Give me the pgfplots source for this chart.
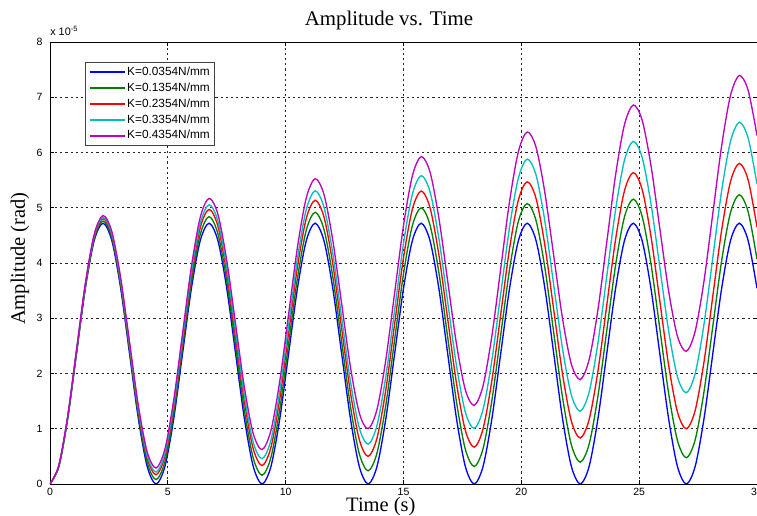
\documentclass[border=0pt]{standalone}
\usepackage{fontspec}
\setmainfont{Liberation Serif}
\setsansfont{Liberation Sans}
\usepackage{pgfplots}
\usepackage{pgfplotstable}
\pgfplotsset{compat=1.18}

\definecolor{mblue}{rgb}{0,0,1}
\definecolor{mgreen}{rgb}{0,0.5,0}
\definecolor{mred}{rgb}{1,0,0}
\definecolor{mcyan}{rgb}{0,0.75,0.75}
\definecolor{mmag}{rgb}{0.75,0,0.75}

% amplitude in units of 1e-5 rad
\pgfplotstableread{
t b g r c m
0 0 0 0 0 0
0.375 0.316 0.323 0.330 0.333 0.338
0.75 1.18 1.193 1.208 1.215 1.225
1.125 2.36 2.380 2.402 2.412 2.428
1.5 3.54 3.566 3.596 3.610 3.631
1.875 4.404 4.437 4.473 4.492 4.519
2.25 4.72 4.760 4.803 4.826 4.859
2.625 4.404 4.450 4.501 4.528 4.567
3 3.54 3.593 3.651 3.682 3.728
3.375 2.36 2.419 2.485 2.521 2.573
3.75 1.18 1.246 1.319 1.359 1.418
4.125 0.316 0.389 0.469 0.514 0.579
4.5 0 0.079 0.167 0.217 0.289
4.875 0.316 0.402 0.496 0.552 0.631
5.25 1.18 1.272 1.374 1.435 1.522
5.625 2.36 2.459 2.568 2.635 2.728
6 3.54 3.646 3.762 3.834 3.935
6.375 4.404 4.516 4.640 4.718 4.827
6.75 4.72 4.839 4.970 5.054 5.170
7.125 4.404 4.529 4.668 4.758 4.882
7.5 3.54 3.672 3.818 3.914 4.047
7.875 2.36 2.499 2.652 2.755 2.895
8.25 1.18 1.325 1.485 1.595 1.744
8.625 0.316 0.468 0.635 0.752 0.909
9 0 0.158 0.333 0.457 0.623
9.375 0.316 0.481 0.663 0.794 0.968
9.75 1.18 1.352 1.541 1.679 1.863
10.125 2.36 2.538 2.735 2.881 3.073
10.5 3.54 3.725 3.929 4.082 4.284
10.875 4.404 4.595 4.807 4.968 5.179
11.25 4.72 4.918 5.136 5.306 5.526
11.625 4.404 4.609 4.834 5.012 5.242
12 3.54 3.751 3.984 4.170 4.410
12.375 2.36 2.578 2.818 3.013 3.262
12.75 1.18 1.404 1.652 1.855 2.115
13.125 0.316 0.547 0.802 1.014 1.283
13.5 0 0.238 0.500 0.721 1.001
13.875 0.316 0.560 0.830 1.060 1.350
14.25 1.18 1.431 1.707 1.947 2.248
14.625 2.36 2.617 2.901 3.150 3.462
15 3.54 3.804 4.095 4.354 4.677
15.375 4.404 4.675 4.973 5.241 5.575
15.75 4.72 4.997 5.303 5.581 5.926
16.125 4.404 4.688 5.001 5.289 5.646
16.5 3.54 3.830 4.151 4.449 4.817
16.875 2.36 2.657 2.985 3.294 3.673
17.25 1.18 1.484 1.819 2.138 2.530
17.625 0.316 0.626 0.968 1.299 1.702
18 0 0.317 0.666 1.007 1.423
18.375 0.316 0.639 0.996 1.348 1.776
18.75 1.18 1.510 1.874 2.238 2.678
19.125 2.36 2.697 3.068 3.443 3.896
19.5 3.54 3.883 4.262 4.648 5.114
19.875 4.404 4.754 5.140 5.538 6.016
20.25 4.72 5.076 5.470 5.880 6.371
20.625 4.404 4.767 5.167 5.590 6.094
21 3.54 3.910 4.317 4.752 5.269
21.375 2.36 2.736 3.151 3.598 4.129
21.75 1.18 1.563 1.985 2.444 2.989
22.125 0.316 0.705 1.135 1.607 2.165
22.5 0 0.396 0.833 1.318 1.890
22.875 0.316 0.719 1.163 1.661 2.247
23.25 1.18 1.589 2.041 2.552 3.152
23.625 2.36 2.776 3.234 3.759 4.374
24 3.54 3.962 4.428 4.966 5.595
24.375 4.404 4.833 5.306 5.858 6.502
24.75 4.72 5.156 5.636 6.201 6.860
25.125 4.404 4.846 5.334 5.913 6.587
25.5 3.54 3.989 4.484 5.077 5.766
25.875 2.36 2.815 3.318 3.926 4.629
26.25 1.18 1.642 2.152 2.774 3.493
26.625 0.316 0.785 1.302 1.938 2.673
27 0 0.475 0.999 1.651 2.401
27.375 0.316 0.798 1.329 1.996 2.762
27.75 1.18 1.668 2.207 2.889 3.671
28.125 2.36 2.855 3.401 4.098 4.896
28.5 3.54 4.042 4.595 5.308 6.121
28.875 4.404 4.912 5.473 6.201 7.031
29.25 4.72 5.235 5.803 6.547 7.394
29.625 4.404 4.925 5.501 6.260 7.124
30 3.54 4.068 4.650 5.426 6.307
}\amp

\begin{document}
\begin{tikzpicture}
\begin{axis}[
    scale only axis,
    width=424.2pt, height=265.2pt,
    xmin=0, xmax=30, ymin=0, ymax=8,
    xtick={0,5,...,30}, ytick={0,1,...,8},
    tick align=inside, major tick length=2.5pt,
    every tick/.style={black, line width=0.4pt},
    axis line style={black, line width=0.5pt},
    grid=major,
    grid style={black!85, line width=0.4pt, dash pattern=on 1.3pt off 1.8pt},
    ticklabel style={font=\sffamily\fontsize{6.3}{7}\selectfont},
    /pgf/number format/assume math mode=true,
    xticklabel style={yshift=1pt},
    yticklabel style={xshift=-1pt},
    every axis title shift=0pt,
    title={Amplitude vs. Time},
    title style={at={(0.4795,1.0362)}, anchor=base, font=\fontsize{12.5}{14}\selectfont},
    xlabel={Time (s)},
    xlabel style={at={(0.468,-0.062)}, anchor=base, font=\fontsize{12.3}{14}\selectfont},
    ylabel={Amplitude (rad)},
    ylabel style={at={(-0.0354,0.51)}, anchor=base, font=\fontsize{12.3}{14}\selectfont},
    legend cell align=left,
    legend style={at={(0.0495,0.9548)}, anchor=north west,
        font=\sffamily\fontsize{7.1}{8}\selectfont,
        draw=black!75, line width=0.5pt, inner xsep=2pt, inner ysep=1.5pt,
        row sep=0.6pt,
        nodes={inner sep=1pt, text height=5.4pt, text depth=1.5pt}},
    legend image code/.code={\draw[#1, line width=1.1pt] (0pt,0pt) -- (21pt,0pt);},
    every axis plot/.append style={line width=0.8pt, smooth},
    extra description/.code={
        \node[anchor=base west, font=\sffamily\fontsize{6.5}{7}\selectfont, inner sep=0pt]
            at (0,1.0136) {x 10\textsuperscript{-5}};
    },
]
\addplot[mblue] table[x=t, y=b] {\amp};
\addlegendentry{K=0.0354N/mm}
\addplot[mgreen] table[x=t, y=g] {\amp};
\addlegendentry{K=0.1354N/mm}
\addplot[mred] table[x=t, y=r] {\amp};
\addlegendentry{K=0.2354N/mm}
\addplot[mcyan] table[x=t, y=c] {\amp};
\addlegendentry{K=0.3354N/mm}
\addplot[mmag] table[x=t, y=m] {\amp};
\addlegendentry{K=0.4354N/mm}
\end{axis}
\pgfresetboundingbox
\path[use as bounding box] ([xshift=-30pt,yshift=-19.2pt]current axis.south west)
    rectangle ([yshift=25.2pt]current axis.north east);
\end{tikzpicture}
\end{document}
